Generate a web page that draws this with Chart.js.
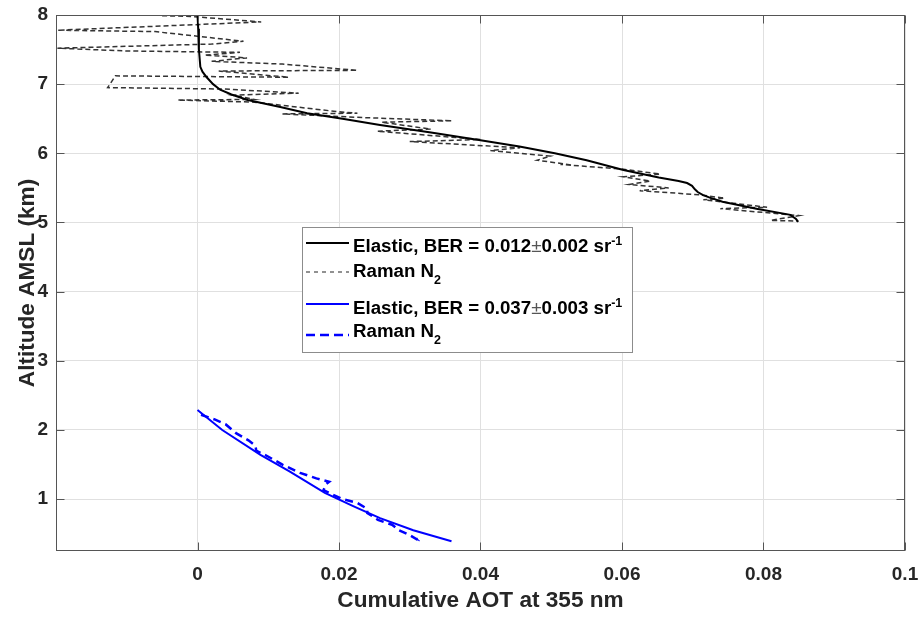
<!DOCTYPE html>
<html>
<head>
<meta charset="utf-8">
<script src="https://cdn.jsdelivr.net/npm/chart.js@4/dist/chart.umd.min.js"></script>
<style>
  html, body { margin: 0; padding: 0; background: #fff; }
  #wrap { width: 923px; height: 617px; position: relative; }
</style>
</head>
<body>
<div id="wrap"><canvas id="c"></canvas></div>
<script>
// ---------- DATA ----------
const seriesLabels = [
  'Elastic, BER = 0.012±0.002 sr^{-1}',
  'Raman N_{2}',
  'Elastic, BER = 0.037±0.003 sr^{-1}',
  'Raman N_{2}'
];

// Upper layer: elastic (black solid)
const upperElasticAlt = [8.0, 7.8, 7.5, 7.25, 7.18, 7.1, 7.0, 6.92, 6.85, 6.77, 6.67, 6.58, 6.5, 6.41, 6.3, 6.19, 6.1, 6.0, 5.9, 5.76, 5.65, 5.6, 5.57, 5.53, 5.48, 5.44, 5.4, 5.36, 5.33, 5.3, 5.2, 5.11, 5.05, 5.01];
const upperElasticAOT = [0.0, 0.0001, 0.0002, 0.0004, 0.0007, 0.0013, 0.0022, 0.0032, 0.0048, 0.0071, 0.0117, 0.0155, 0.0205, 0.0258, 0.033, 0.040, 0.0455, 0.0505, 0.055, 0.0602, 0.0652, 0.068, 0.0692, 0.0699, 0.0703, 0.0707, 0.0714, 0.0724, 0.0733, 0.0742, 0.079, 0.0838, 0.0846, 0.0849];

// Upper layer: Raman N2 (grey dashed)
const upperRamanAlt = [7.99, 7.98, 7.90, 7.87, 7.78, 7.76, 7.62, 7.58, 7.52, 7.48, 7.46, 7.42, 7.38, 7.33, 7.29, 7.20, 7.19, 7.10, 7.12, 6.95, 6.93, 6.87, 6.84, 6.78, 6.77, 6.74, 6.60, 6.58, 6.57, 6.52, 6.47, 6.45, 6.35, 6.32, 6.20, 6.17, 6.08, 6.04, 5.96, 5.90, 5.83, 5.84, 5.77, 5.70, 5.66, 5.60, 5.55, 5.50, 5.46, 5.40, 5.35, 5.33, 5.22, 5.20, 5.10, 5.03, 5.02];
const upperRamanAOT = [-0.005, -0.001, 0.009, 0.002, -0.0198, -0.006, 0.0065, 0.002, -0.0198, -0.010, 0.006, 0.001, 0.007, 0.002, 0.012, 0.0226, 0.003, 0.0129, -0.0116, -0.0127, 0.0037, 0.0143, 0.005, 0.008, -0.0028, 0.008, 0.020, 0.0226, 0.012, 0.0226, 0.036, 0.026, 0.033, 0.0254, 0.040, 0.030, 0.0456, 0.0414, 0.0499, 0.048, 0.053, 0.0513, 0.0602, 0.0654, 0.0602, 0.064, 0.061, 0.0666, 0.0625, 0.071, 0.0745, 0.0715, 0.0805, 0.0739, 0.085, 0.081, 0.0849];

// Lower layer: elastic (blue solid)
const lowerElasticAlt = [2.29, 2.0, 1.64, 1.4, 1.09, 0.9, 0.725, 0.55, 0.39];
const lowerElasticAOT = [0.0, 0.0035, 0.0089, 0.013, 0.018, 0.022, 0.0258, 0.0305, 0.0359];

// Lower layer: Raman N2 (blue dashed)
const lowerRamanAlt = [2.22, 2.15, 2.08, 1.95, 1.85, 1.77, 1.70, 1.62, 1.50, 1.38, 1.30, 1.25, 1.22, 1.13, 1.07, 1.00, 0.95, 0.86, 0.80, 0.70, 0.63, 0.55, 0.48, 0.42, 0.44, 0.40];
const lowerRamanAOT = [0.0005, 0.0025, 0.004, 0.0055, 0.0072, 0.0082, 0.0083, 0.0099, 0.012, 0.0145, 0.0168, 0.0186, 0.0182, 0.0178, 0.019, 0.0205, 0.0225, 0.024, 0.024, 0.0255, 0.0275, 0.0285, 0.030, 0.031, 0.0315, 0.0312];

const xTickValues = [0, 0.02, 0.04, 0.06, 0.08, 0.1];
const xTickLabels = ['0', '0.02', '0.04', '0.06', '0.08', '0.1'];
const yTickValues = [1, 2, 3, 4, 5, 6, 7, 8];
const yTickLabels = ['1', '2', '3', '4', '5', '6', '7', '8'];
const xTitle = 'Cumulative AOT at 355 nm';
const yTitle = 'Altitude AMSL (km)';

// ---------- BUILD ----------
const pts = (xs, ys) => xs.map((v, i) => ({ x: v, y: ys[i] }));
const FONT = '"Liberation Sans", Arial, sans-serif';
const AXIS_COL = '#262626';

const styles = [
  { borderColor: '#000000', borderWidth: 2, borderDash: [] },
  { borderColor: '#333333', borderWidth: 1.5, borderDash: [5, 3] },
  { borderColor: '#0000ff', borderWidth: 2, borderDash: [] },
  { borderColor: '#0000ff', borderWidth: 2.5, borderDash: [8, 5] }
];
const legendSampleStyles = [
  { color: '#000000', width: 2, dash: [] },
  { color: '#6e6e6e', width: 1.3, dash: [4, 4] },
  { color: '#0000ff', width: 2, dash: [] },
  { color: '#0000ff', width: 2.5, dash: [9, 5] }
];

const datasets = [
  pts(upperElasticAOT, upperElasticAlt),
  pts(upperRamanAOT, upperRamanAlt),
  pts(lowerElasticAOT, lowerElasticAlt),
  pts(lowerRamanAOT, lowerRamanAlt)
].map((d, i) => Object.assign({
  label: seriesLabels[i],
  data: d,
  showLine: true,
  pointRadius: 0,
  pointHoverRadius: 0,
  fill: false,
  tension: 0
}, styles[i]));

function drawRich(ctx, str, x, y) {
  const parts = str.split(/(\^\{[^}]*\}|_\{[^}]*\}|±)/).filter(s => s.length);
  for (const p of parts) {
    let t = p, font = 'bold 18.7px ' + FONT, dy = 0, col = '#000';
    if (p.startsWith('^{')) { t = p.slice(2, -1); font = 'bold 12.5px ' + FONT; dy = -7; }
    else if (p.startsWith('_{')) { t = p.slice(2, -1); font = 'bold 12.5px ' + FONT; dy = 7; }
    else if (p === '±') { font = '19px ' + FONT; col = '#555'; }
    ctx.font = font; ctx.fillStyle = col;
    ctx.fillText(t, x, y + dy);
    x += ctx.measureText(t).width;
  }
}

const boxPlugin = {
  id: 'boxPlugin',
  afterDatasetsDraw(chart) {
    const { ctx, chartArea: a, scales } = chart;
    const L = Math.round(a.left) + 0.5, R = Math.round(a.right) - 0.5;
    const T = Math.round(a.top) + 0.5, B = Math.round(a.bottom) - 0.5;
    ctx.save();
    ctx.strokeStyle = '#555';
    ctx.lineWidth = 1;
    ctx.setLineDash([]);
    ctx.strokeRect(L, T, R - L, B - T);
    const tl = 8;
    ctx.beginPath();
    for (const v of xTickValues) {
      const px = Math.round(scales.x.getPixelForValue(v)) + 0.5;
      ctx.moveTo(px, B); ctx.lineTo(px, B - tl);
      ctx.moveTo(px, T); ctx.lineTo(px, T + tl);
    }
    for (const v of yTickValues) {
      const py = Math.round(scales.y.getPixelForValue(v)) + 0.5;
      ctx.moveTo(L, py); ctx.lineTo(L + tl, py);
      ctx.moveTo(R, py); ctx.lineTo(R - tl, py);
    }
    ctx.stroke();
    ctx.restore();
  },
  afterDraw(chart) {
    const { ctx } = chart;
    ctx.save();
    // legend box
    const bx = 302.5, by = 227.5, bw = 330, bh = 125;
    ctx.fillStyle = '#fff';
    ctx.fillRect(bx, by, bw, bh);
    ctx.strokeStyle = '#8c8c8c';
    ctx.lineWidth = 1;
    ctx.setLineDash([]);
    ctx.strokeRect(bx, by, bw, bh);
    const lineY = [243, 272, 304, 335];
    const textY = [252, 277, 313.5, 337];
    ctx.textBaseline = 'alphabetic';
    ctx.textAlign = 'left';
    for (let i = 0; i < seriesLabels.length; i++) {
      const s = legendSampleStyles[i];
      ctx.beginPath();
      ctx.strokeStyle = s.color;
      ctx.lineWidth = s.width;
      ctx.setLineDash(s.dash);
      ctx.moveTo(306, lineY[i]);
      ctx.lineTo(349, lineY[i]);
      ctx.stroke();
      ctx.setLineDash([]);
      drawRich(ctx, seriesLabels[i], 353, textY[i]);
    }
    ctx.restore();
  }
};

new Chart(document.getElementById('c'), {
  type: 'scatter',
  data: { datasets },
  options: {
    responsive: true,
    maintainAspectRatio: false,
    animation: false,
    events: [],
    layout: { padding: { top: 15, right: 18, left: 0, bottom: 0 } },
    plugins: { legend: { display: false }, tooltip: { enabled: false } },
    scales: {
      x: {
        type: 'linear',
        min: -0.02,
        max: 0.1,
        afterBuildTicks: (s) => { s.ticks = xTickValues.map(v => ({ value: v })); },
        afterFit: (s) => { s.height = 66; s.paddingLeft = 0; s.paddingRight = 0; },
        ticks: {
          autoSkip: false, maxRotation: 0, padding: 12,
          color: AXIS_COL,
          font: { family: FONT, size: 19, weight: 'bold' },
          callback: (v, i) => xTickLabels[i]
        },
        grid: { color: '#e0e0e0', drawTicks: false },
        border: { display: false },
        title: {
          display: true, text: xTitle, color: AXIS_COL,
          font: { family: FONT, size: 22.6, weight: 'bold' },
          padding: { top: 0, bottom: 3 }
        }
      },
      y: {
        type: 'linear',
        min: 0.25,
        max: 8,
        afterBuildTicks: (s) => { s.ticks = yTickValues.map(v => ({ value: v })); },
        afterFit: (s) => { s.width = 56; s.paddingTop = 0; s.paddingBottom = 0; },
        ticks: {
          autoSkip: false, padding: 8,
          color: AXIS_COL,
          font: { family: FONT, size: 19, weight: 'bold' },
          callback: (v, i) => yTickLabels[i]
        },
        grid: { color: '#e0e0e0', drawTicks: false },
        border: { display: false },
        title: {
          display: true, text: yTitle, color: AXIS_COL,
          font: { family: FONT, size: 22.6, weight: 'bold' },
          padding: { top: 14, bottom: 0 }
        }
      }
    }
  },
  plugins: [boxPlugin]
});
</script>
</body>
</html>
